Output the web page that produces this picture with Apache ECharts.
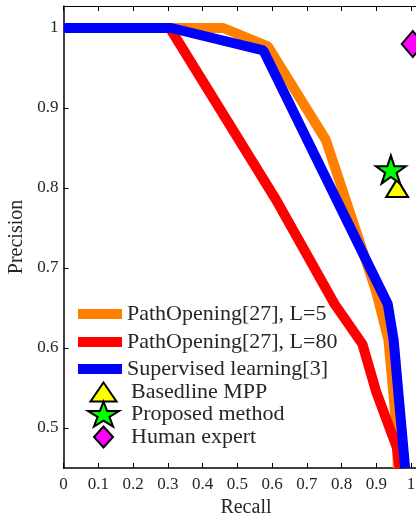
<!DOCTYPE html>
<html><head><meta charset="utf-8">
<script src="https://cdn.jsdelivr.net/npm/echarts@6/dist/echarts.min.js"></script>
<style>html,body{margin:0;padding:0;background:#fff}#c{width:416px;height:514px}</style>
</head><body><div id="c"></div>
<script>
// ---- data ----
const xTicks = [0, 0.1, 0.2, 0.3, 0.4, 0.5, 0.6, 0.7, 0.8, 0.9, 1];
const yTicks = [0.5, 0.6, 0.7, 0.8, 0.9, 1];
const seriesNames = ['PathOpening[27], L=5', 'PathOpening[27], L=80', 'Supervised learning[3]', 'Basedline MPP', 'Proposed method', 'Human expert'];
const orangeRecall = [0, 0.46, 0.588, 0.755, 0.9, 0.935, 0.958, 0.962];
const orangePrecision = [1, 1, 0.977, 0.86, 0.67, 0.61, 0.5, 0.45];
const redRecall = [0, 0.306, 0.612, 0.78, 0.86, 0.9, 0.959, 0.967];
const redPrecision = [1, 1, 0.785, 0.655, 0.605, 0.545, 0.476, 0.45];
const blueRecall = [0, 0.31, 0.575, 0.933, 0.95, 0.983];
const bluePrecision = [1, 1, 0.972, 0.655, 0.61, 0.45];
const baselineMPP = [0.96, 0.80];
const proposedMethod = [0.942, 0.823];
const humanExpert = [1.005, 0.98];

// ---- styling ----
const FONT = 'Liberation Serif';
const TXT = '#262626';
function zip(a, b) { return a.map((v, i) => [v, b[i]]); }
function starPath(w, h) {
  const pts = [];
  for (let k = 0; k < 10; k++) {
    const ang = -Math.PI / 2 + k * Math.PI / 5;
    const r = k % 2 === 0 ? 1 : 0.382;
    pts.push([(Math.cos(ang) * r + 1) * w / 2, (Math.sin(ang) * r + 1) * h / 2]);
  }
  return 'path://M' + pts.map(p => p[0].toFixed(2) + ' ' + p[1].toFixed(2)).join(' L') + ' Z';
}
const triPath = (w, h) => `path://M${w/2} 0 L${w} ${h} L0 ${h} Z`;
const diaPath = (w, h) => `path://M${w/2} 0 L${w} ${h/2} L${w/2} ${h} L0 ${h/2} Z`;

const chart = echarts.init(document.getElementById('c'), null, {renderer: 'canvas'});
function ts(padLeft) {
  return {fontFamily: FONT, fontSize: 22, lineHeight: 24, color: TXT, padding: [0, 0, 0, padLeft]};
}
function lineLegend(name, top) {
  return {data: [{name: name, icon: 'rect'}], left: 78, top: top, orient: 'vertical', padding: 0,
    itemWidth: 44, itemHeight: 10, textStyle: ts(0), selectedMode: false};
}
function markLegend(name, icon, w, h, top) {
  const left = 102.5 - w / 2;
  return {data: [{name: name, icon: icon}], left: left, top: top, orient: 'vertical', padding: 0,
    itemWidth: w, itemHeight: h, symbolKeepAspect: false, textStyle: ts(130 - left - w - 5), selectedMode: false};
}
const axisLineStyle = {color: '#000', width: 1.5};
chart.setOption({
  animation: false,
  backgroundColor: '#fff',
  grid: {left: 63.5, top: 6, width: 364.9, bottom: 46, containLabel: false, outerBoundsMode: 'none'},
  legend: [
    lineLegend(seriesNames[0], 302),
    lineLegend(seriesNames[1], 330),
    lineLegend(seriesNames[2], 357),
    markLegend(seriesNames[3], triPath(26, 19), 26, 19, 380),
    markLegend(seriesNames[4], starPath(31, 25), 31, 25, 400.5),
    markLegend(seriesNames[5], diaPath(19, 21), 19, 21, 425)
  ],
  xAxis: [{
    type: 'value', position: 'bottom', min: 0, max: 1.05,
    axisLine: {onZero: false, lineStyle: axisLineStyle},
    axisTick: {inside: true, length: 5, customValues: xTicks, lineStyle: {color: '#000'}},
    axisLabel: {customValues: xTicks, fontFamily: FONT, fontSize: 17, color: TXT, margin: 8,
      formatter: v => (v > 1.0001 ? '' : String(+v.toFixed(1)))},
    splitLine: {show: false},
    name: 'Recall', nameLocation: 'middle', nameGap: 22,
    nameTextStyle: {fontFamily: FONT, fontSize: 20, color: TXT}
  }, {
    type: 'value', position: 'top', min: 0, max: 1.05,
    axisLine: {onZero: false, lineStyle: {color: '#000', width: 1}},
    axisTick: {inside: true, length: 5, customValues: xTicks, lineStyle: {color: '#000'}},
    axisLabel: {show: false},
    splitLine: {show: false}
  }],
  yAxis: [{
    type: 'value', min: 0.45, max: 1.0275,
    axisLine: {onZero: false, show: true, lineStyle: axisLineStyle},
    axisTick: {show: true, inside: true, length: 5, customValues: yTicks, lineStyle: {color: '#000'}},
    axisLabel: {customValues: yTicks, fontFamily: FONT, fontSize: 17, color: TXT, margin: 5,
      formatter: v => String(+v.toFixed(1))},
    splitLine: {show: false},
    name: 'Precision', nameLocation: 'middle', nameGap: 28,
    nameTextStyle: {fontFamily: FONT, fontSize: 20, color: TXT}
  }],
  series: [
    {type: 'line', name: seriesNames[0], data: zip(orangeRecall, orangePrecision), symbol: 'none',
      color: '#ff8000', lineStyle: {width: 10, color: '#ff8000'}, itemStyle: {color: '#ff8000'}, z: 2},
    {type: 'line', name: seriesNames[1], data: zip(redRecall, redPrecision), symbol: 'none',
      color: '#ff0000', lineStyle: {width: 10, color: '#ff0000'}, itemStyle: {color: '#ff0000'}, z: 3},
    {type: 'line', name: seriesNames[2], data: zip(blueRecall, bluePrecision), symbol: 'none',
      color: '#0000ff', lineStyle: {width: 10, color: '#0000ff'}, itemStyle: {color: '#0000ff'}, z: 4},
    {type: 'scatter', name: seriesNames[3], data: [baselineMPP], symbol: triPath(26, 19), symbolSize: [22, 18],
      itemStyle: {color: '#ffff00', borderColor: '#000', borderWidth: 2, opacity: 1}, z: 5},
    {type: 'scatter', name: seriesNames[4], data: [proposedMethod], symbol: starPath(30, 24), symbolSize: [30, 28],
      itemStyle: {color: '#00ff00', borderColor: '#000', borderWidth: 2, opacity: 1}, z: 6},
    {type: 'scatter', name: seriesNames[5], data: [humanExpert], symbol: diaPath(18, 20), symbolSize: [22, 26],
      itemStyle: {color: '#ff00ff', borderColor: '#000', borderWidth: 2, opacity: 1}, z: 6, clip: false}
  ]
});
</script></body></html>
